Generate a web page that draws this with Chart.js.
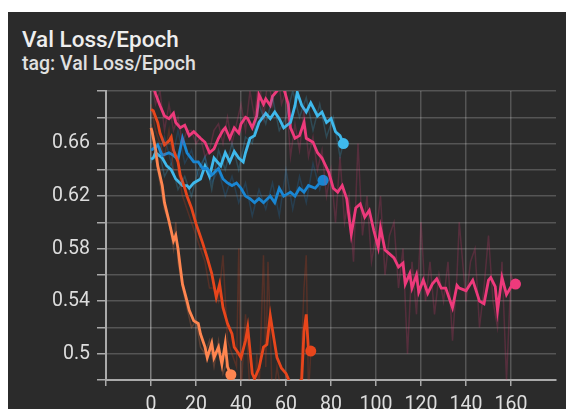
<!DOCTYPE html>
<html>
<head>
<meta charset="utf-8">
<script src="https://cdn.jsdelivr.net/npm/chart.js@4.4.1/dist/chart.umd.min.js"></script>
<style>
  html, body { margin: 0; padding: 0; background: #ffffff; width: 566px; height: 409px; overflow: hidden; }
  #panel { position: absolute; left: 8px; top: 12px; width: 558px; height: 397px; background: #2b2b2b; }
  #title { position: absolute; left: 22px; top: 26px; font: 500 22.5px Roboto, sans-serif; color: #eeeeee; white-space: nowrap; }
  #sub { position: absolute; left: 22px; top: 52px; font: 500 19.5px Roboto, sans-serif; color: #e0e0e0; white-space: nowrap; }
  #c { position: absolute; left: 0; top: 0; }
</style>
</head>
<body>
<div id="panel"></div>
<div id="title">Val Loss/Epoch</div>
<div id="sub">tag: Val Loss/Epoch</div>
<canvas id="c" width="566" height="409"></canvas>
<script>
// Smoothed validation loss per epoch, one pair of arrays per run
const magentaEpochs = [0, 1, 2, 4, 6, 8, 10, 11, 13, 15, 17, 19, 22, 24, 26, 28, 30, 32, 33, 35, 37, 39, 40, 42, 43, 45, 47, 48, 50, 51, 53, 54, 56, 57, 59, 61, 62, 64, 66, 68, 69, 72, 74, 76, 79, 81, 83, 85, 87, 89, 91, 93, 95, 97, 99, 101, 102, 104, 106, 108, 110, 112, 113, 115, 116, 118, 119, 121, 123, 125, 127, 129, 131, 134, 136, 137, 140, 143, 146, 148, 150, 151, 153, 154, 156, 158, 160, 162];
const magentaLoss = [0.702, 0.704, 0.698, 0.689, 0.681, 0.679, 0.683, 0.676, 0.672, 0.674, 0.666, 0.669, 0.664, 0.661, 0.653, 0.656, 0.664, 0.670, 0.672, 0.664, 0.672, 0.668, 0.675, 0.680, 0.679, 0.672, 0.681, 0.697, 0.690, 0.694, 0.689, 0.696, 0.700, 0.703, 0.702, 0.690, 0.672, 0.664, 0.666, 0.676, 0.664, 0.661, 0.653, 0.649, 0.638, 0.626, 0.623, 0.628, 0.618, 0.591, 0.611, 0.614, 0.604, 0.609, 0.594, 0.581, 0.596, 0.579, 0.576, 0.573, 0.566, 0.569, 0.553, 0.561, 0.550, 0.560, 0.547, 0.556, 0.546, 0.553, 0.557, 0.550, 0.550, 0.535, 0.552, 0.550, 0.548, 0.556, 0.540, 0.538, 0.556, 0.558, 0.551, 0.533, 0.558, 0.545, 0.551, 0.553];

const cyanEpochs = [0, 1, 2, 5, 7, 9, 11, 14, 16, 17, 19, 22, 24, 26, 28, 31, 33, 35, 37, 39, 41, 42, 44, 46, 48, 51, 53, 55, 57, 59, 62, 64, 65, 67, 69, 71, 74, 76, 78, 80, 82, 84, 85.5];
const cyanLoss = [0.648, 0.649, 0.653, 0.649, 0.643, 0.640, 0.633, 0.628, 0.628, 0.626, 0.630, 0.633, 0.643, 0.635, 0.649, 0.643, 0.653, 0.646, 0.654, 0.649, 0.646, 0.653, 0.664, 0.666, 0.676, 0.683, 0.679, 0.684, 0.679, 0.672, 0.676, 0.689, 0.699, 0.689, 0.684, 0.691, 0.681, 0.684, 0.676, 0.679, 0.669, 0.666, 0.660];

const blueEpochs = [0, 1, 3, 5, 8, 10, 12, 14, 16, 19, 21, 23, 25, 27, 30, 32, 34, 36, 38, 40, 42, 44, 46, 48, 50, 53, 55, 57, 59, 62, 64, 66, 68, 70, 73, 75, 76.5];
const blueLoss = [0.655, 0.656, 0.659, 0.651, 0.653, 0.651, 0.648, 0.664, 0.653, 0.646, 0.646, 0.641, 0.641, 0.636, 0.641, 0.633, 0.630, 0.628, 0.630, 0.626, 0.620, 0.618, 0.615, 0.618, 0.615, 0.620, 0.615, 0.626, 0.620, 0.623, 0.620, 0.626, 0.623, 0.628, 0.626, 0.630, 0.632];

const redEpochs = [0, 1, 3, 4, 6, 8, 9, 10, 12, 13, 15, 16, 18, 20, 22, 23, 25, 27, 29, 30.5, 32, 34, 36, 37, 39, 40, 42, 43, 45, 46, 48, 50, 51.5, 53, 54, 56, 58, 60, 62, 65, 67, 68, 69, 70, 71];
const redLoss = [0.686, 0.685, 0.676, 0.668, 0.659, 0.662, 0.665, 0.655, 0.646, 0.636, 0.626, 0.620, 0.611, 0.599, 0.589, 0.584, 0.573, 0.561, 0.543, 0.553, 0.535, 0.523, 0.515, 0.505, 0.500, 0.497, 0.510, 0.520, 0.485, 0.481, 0.489, 0.505, 0.507, 0.529, 0.518, 0.497, 0.489, 0.485, 0.477, 0.476, 0.481, 0.517, 0.530, 0.502, 0.502];

const orangeEpochs = [0, 0.5, 2, 3, 5, 6, 8, 10, 11, 12, 13, 14, 16, 17, 19, 21, 22, 24, 25, 27, 28, 30, 31.5, 33, 34, 35.5];
const orangeLoss = [0.672, 0.669, 0.656, 0.643, 0.628, 0.615, 0.601, 0.586, 0.590, 0.580, 0.566, 0.553, 0.540, 0.533, 0.525, 0.523, 0.515, 0.505, 0.497, 0.508, 0.497, 0.505, 0.492, 0.508, 0.490, 0.484];

// Raw (unsmoothed) values, drawn faintly behind the smoothed curves
const magentaRawEpochs = [0, 2, 4, 6, 8, 10, 12, 14, 16, 18, 20, 22, 24, 26, 28, 30, 32, 34, 36, 38, 40, 42, 44, 46, 48, 50, 52, 54, 56, 58, 60, 62, 64, 66, 68, 70, 72, 74, 76, 78, 80, 82, 84, 86, 88, 90, 92, 94, 96, 98, 100, 102, 104, 106, 108, 110, 112, 114, 116, 118, 120, 122, 124, 126, 128, 130, 132, 134, 136, 137, 140, 142, 144, 146, 148, 150, 152, 154, 156, 158, 160, 162];
const magentaRawLoss = [0.710, 0.690, 0.700, 0.670, 0.690, 0.670, 0.680, 0.660, 0.670, 0.670, 0.660, 0.665, 0.650, 0.655, 0.670, 0.675, 0.660, 0.680, 0.660, 0.675, 0.690, 0.670, 0.700, 0.680, 0.710, 0.680, 0.710, 0.690, 0.720, 0.690, 0.700, 0.650, 0.675, 0.655, 0.685, 0.650, 0.665, 0.640, 0.655, 0.620, 0.640, 0.600, 0.650, 0.600, 0.620, 0.570, 0.660, 0.590, 0.620, 0.570, 0.590, 0.620, 0.560, 0.590, 0.600, 0.550, 0.580, 0.500, 0.570, 0.530, 0.600, 0.540, 0.570, 0.530, 0.560, 0.540, 0.570, 0.510, 0.560, 0.600, 0.540, 0.570, 0.580, 0.520, 0.550, 0.590, 0.540, 0.520, 0.570, 0.480, 0.560, 0.550];

const cyanRawEpochs = [0, 3, 6, 9, 12, 15, 18, 21, 24, 27, 30, 33, 36, 39, 42, 45, 48, 51, 54, 57, 60, 63, 66, 69, 72, 75, 78, 81, 84, 85.5];
const cyanRawLoss = [0.645, 0.660, 0.635, 0.645, 0.625, 0.635, 0.620, 0.640, 0.650, 0.625, 0.655, 0.640, 0.660, 0.640, 0.665, 0.660, 0.690, 0.675, 0.695, 0.670, 0.680, 0.700, 0.680, 0.695, 0.670, 0.690, 0.665, 0.680, 0.650, 0.660];

const blueRawEpochs = [0, 3, 6, 9, 12, 15, 18, 21, 24, 27, 30, 33, 36, 39, 42, 45, 48, 51, 54, 57, 60, 63, 66, 69, 72, 75, 76.5];
const blueRawLoss = [0.660, 0.650, 0.665, 0.645, 0.670, 0.645, 0.655, 0.635, 0.650, 0.630, 0.640, 0.620, 0.635, 0.615, 0.630, 0.605, 0.625, 0.610, 0.630, 0.605, 0.640, 0.610, 0.635, 0.615, 0.645, 0.625, 0.635];

const redRawEpochs = [0, 2, 4, 6, 8, 10, 12, 14, 16, 18, 20, 22, 24, 26, 28, 30, 32, 34, 36, 38, 39, 40, 41, 42, 44, 46, 47, 48, 50, 51, 52, 53, 54, 56, 58, 60, 62, 64, 66, 68, 69, 70, 71];
const redRawLoss = [0.690, 0.670, 0.660, 0.650, 0.670, 0.640, 0.640, 0.620, 0.610, 0.600, 0.590, 0.580, 0.570, 0.550, 0.550, 0.540, 0.575, 0.510, 0.500, 0.490, 0.580, 0.470, 0.500, 0.530, 0.470, 0.460, 0.500, 0.470, 0.575, 0.490, 0.570, 0.520, 0.460, 0.490, 0.470, 0.470, 0.460, 0.470, 0.460, 0.550, 0.575, 0.470, 0.500];

const orangeRawEpochs = [0, 2, 4, 6, 8, 10, 11, 12, 14, 16, 18, 20, 22, 24, 26, 28, 30, 32, 34, 35.5];
const orangeRawLoss = [0.675, 0.650, 0.630, 0.610, 0.600, 0.580, 0.600, 0.570, 0.550, 0.535, 0.520, 0.525, 0.505, 0.500, 0.510, 0.490, 0.510, 0.485, 0.495, 0.480];

// Axis ticks
const xTicks = [-20, 0, 20, 40, 60, 80, 100, 120, 140, 160];
const xLabels = ['', '0', '20', '40', '60', '80', '100', '120', '140', '160'];
const yTicks = [0.48, 0.50, 0.52, 0.54, 0.56, 0.58, 0.60, 0.62, 0.64, 0.66, 0.68, 0.70];
const yLabels = ['', '0.5', '', '0.54', '', '0.58', '', '0.62', '', '0.66', '', ''];

function pairs(xs, ys) { return xs.map((x, i) => ({ x: x, y: ys[i] })); }

function run(xs, ys, color) {
  const n = xs.length;
  return {
    data: pairs(xs, ys),
    borderColor: color,
    backgroundColor: color,
    borderWidth: 2.8,
    tension: 0,
    pointRadius: ctx => (ctx.dataIndex === n - 1 ? 5.5 : 0),
    pointHoverRadius: 0,
    pointBorderWidth: 0
  };
}

function raw(xs, ys, color) {
  return {
    data: pairs(xs, ys),
    borderColor: color,
    borderWidth: 1.5,
    tension: 0,
    pointRadius: 0,
    pointHoverRadius: 0
  };
}

const gridColor = 'rgba(255,255,255,0.2)';

new Chart(document.getElementById('c'), {
  type: 'line',
  data: {
    datasets: [
      raw(redRawEpochs, redRawLoss, 'rgba(232,70,28,0.22)'),
      raw(orangeRawEpochs, orangeRawLoss, 'rgba(255,134,80,0.22)'),
      raw(blueRawEpochs, blueRawLoss, 'rgba(26,134,210,0.22)'),
      raw(cyanRawEpochs, cyanRawLoss, 'rgba(63,185,236,0.22)'),
      raw(magentaRawEpochs, magentaRawLoss, 'rgba(238,58,124,0.22)'),
      run(redEpochs, redLoss, '#e8461c'),
      run(orangeEpochs, orangeLoss, '#ff8650'),
      run(blueEpochs, blueLoss, '#1a86d2'),
      run(cyanEpochs, cyanLoss, '#3fb9ec'),
      run(magentaEpochs, magentaLoss, '#ee3a7c')
    ]
  },
  options: {
    responsive: false,
    animation: false,
    devicePixelRatio: 1,
    layout: { padding: { top: 91, right: 10, left: 0, bottom: 0 } },
    plugins: { legend: { display: false }, title: { display: false }, tooltip: { enabled: false } },
    scales: {
      x: {
        type: 'linear',
        min: -20,
        max: 180,
        afterBuildTicks: s => { s.ticks = xTicks.map(v => ({ value: v })); },
        afterFit: s => { s.height = 29; },
        ticks: {
          color: '#dddddd',
          font: { family: 'Roboto', size: 19.5 },
          padding: 7,
          maxRotation: 0,
          autoSkip: false,
          callback: (v, i) => xLabels[i]
        },
        grid: {
          color: ctx => (ctx.tick && ctx.tick.value === 0 ? 'rgba(255,255,255,0.4)' : gridColor),
          tickColor: '#aaaaaa',
          tickLength: 6,
          lineWidth: 1.5
        },
        border: { color: '#aaaaaa', width: 2 }
      },
      y: {
        type: 'linear',
        min: 0.48,
        max: 0.70,
        afterBuildTicks: s => { s.ticks = yTicks.map(v => ({ value: v })); },
        afterFit: s => { s.width = 106; },
        ticks: {
          color: '#dddddd',
          font: { family: 'Roboto', size: 19.5 },
          padding: 7,
          autoSkip: false,
          callback: (v, i) => yLabels[i]
        },
        grid: {
          color: gridColor,
          tickColor: '#aaaaaa',
          tickLength: 9,
          lineWidth: 1.5
        },
        border: { color: '#aaaaaa', width: 2 }
      }
    }
  }
});
</script>
</body>
</html>
